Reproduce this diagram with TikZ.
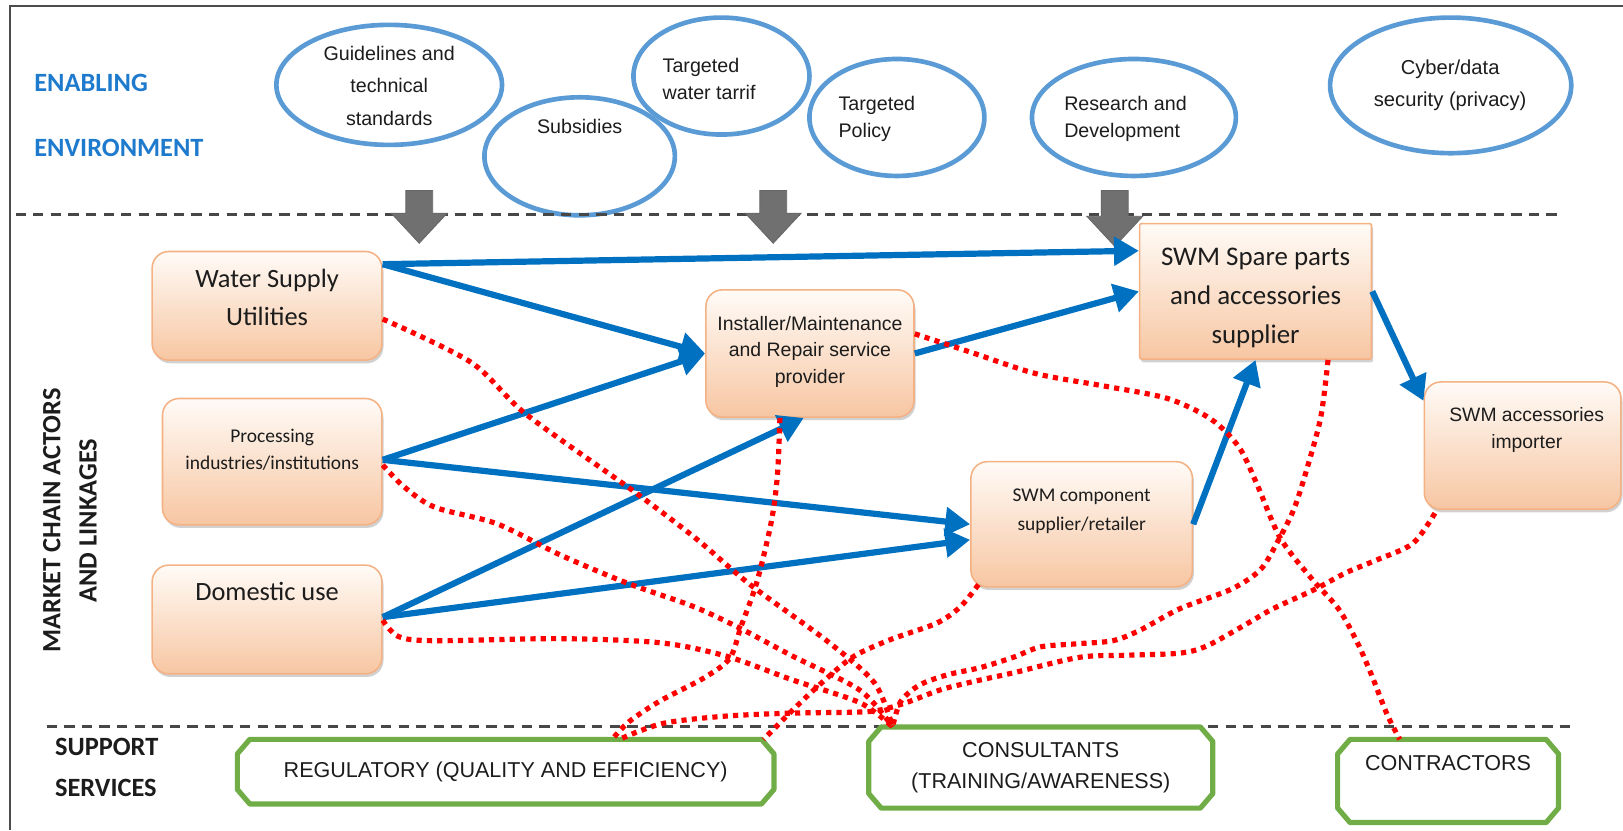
\documentclass[tikz,border=0pt]{standalone}
\usepackage{fontspec}
\setmainfont{Liberation Sans}
\newfontfamily\calibri{Carlito}
\usetikzlibrary{arrows.meta,shapes.geometric,shadows}
\newcommand{\fsz}[2]{\fontsize{#1}{#2}\selectfont}

\definecolor{ellblue}{RGB}{91,155,213}
\definecolor{headblue}{RGB}{30,122,204}
\definecolor{arrblue}{RGB}{0,112,192}
\definecolor{boxedge}{RGB}{244,177,131}
\definecolor{boxtop}{RGB}{255,251,247}
\definecolor{boxbot}{RGB}{247,198,162}
\definecolor{octgreen}{RGB}{112,173,71}
\definecolor{downgray}{RGB}{112,112,112}
\definecolor{txtdark}{RGB}{28,28,28}

\begin{document}
\begin{tikzpicture}[x=1pt,y=-1pt,
  ell/.style={ellipse, draw=ellblue, line width=4.5pt, inner sep=0pt},
  etext/.style={font=\fsz{19}{26}, text=txtdark, align=center, inner sep=0pt},
  headlbl/.style={font=\calibri\bfseries\fsz{25.5}{30}, text=headblue, inner sep=0pt},
  sidelbl/.style={font=\calibri\bfseries\fsz{25.5}{30}, text=txtdark, inner sep=0pt},
  actor/.style={draw=boxedge, line width=1.5pt, rounded corners=16pt,
    top color=boxtop, bottom color=boxbot, inner sep=0pt,
    drop shadow={shadow xshift=1.5pt, shadow yshift=-3pt, opacity=0.3, fill=black!60}},
  atext/.style={text=txtdark, align=center, inner sep=0pt},
  octo/.style={inner sep=0pt, text=txtdark, align=center, font=\fsz{20.8}{30}},
  octline/.style={draw=octgreen, line width=5pt, line join=round},
  divider/.style={draw=black!72, line width=3pt, dash pattern=on 10pt off 7pt},
  downarrow/.style={fill=downgray, draw=black!60, line width=0.8pt},
  flow/.style={draw=arrblue, line width=6pt, -{Triangle[length=24pt,width=27pt]}},
  link/.style={draw=red, line width=5pt, dash pattern=on 5pt off 5pt}
]
\useasboundingbox (0,0) rectangle (1568,802);

% frame
\draw[black!70, line width=2pt] (1568,6) -- (10,6) -- (10,802);

% enabling environment: policy ellipses
\node[ell, minimum width=218pt, minimum height=116pt] (guide) at (376,82) {};
\node[ell, minimum width=184pt, minimum height=114pt] (subs) at (560,151) {};
\node[ell, minimum width=170pt, minimum height=113pt] (tariff) at (697,73.5) {};
\node[ell, minimum width=169pt, minimum height=113pt] (policy) at (866.5,113.5) {};
\node[ell, minimum width=197pt, minimum height=113pt] (rnd) at (1095.5,113.5) {};
\node[ell, minimum width=233pt, minimum height=131pt] (cyber) at (1401.5,82.5) {};

\node[etext, font=\fsz{19}{31.5}] (guide-t) at (376,83) {Guidelines and\\technical\\standards};
\node[etext] (subs-t) at (560,122) {Subsidies};
\node[etext, align=left, anchor=west] (tariff-t) at (640,76) {Targeted\\water tarrif};
\node[etext, align=left, anchor=west] (policy-t) at (810,115) {Targeted\\Policy};
\node[etext, align=left, anchor=west] (rnd-t) at (1028,115) {Research and\\Development};
\node[etext, font=\fsz{19.5}{31}] (cyber-t) at (1401,82.5) {Cyber/data\\security (privacy)};

% section dividers
\draw[divider] (15,207) -- (1510,207);
\draw[divider] (45,702) -- (1522,702);

% influence arrows from the enabling environment
\foreach \cx/\tb/\tip in {405/206/235, 747/206/235, 1077/209/238}{
  \draw[downarrow] (\cx-13,184) -- (\cx-13,\tb) -- (\cx-27,\tb) -- (\cx,\tip)
    -- (\cx+27,\tb) -- (\cx+13,\tb) -- (\cx+13,184) -- cycle;
}

% market chain actors
\node[actor, minimum width=222pt, minimum height=105pt] (wsu) at (258,295.5) {};
\node[actor, minimum width=212pt, minimum height=122pt] (proc) at (263,446) {};
\node[actor, minimum width=222pt, minimum height=105pt] (dom) at (258,598.5) {};
\node[actor, minimum width=201pt, minimum height=123pt] (inst) at (782.5,341.5) {};
\node[actor, rounded corners=2pt, minimum width=224pt, minimum height=131pt] (spare) at (1213,281.5) {};
\node[actor, minimum width=214pt, minimum height=121pt] (comp) at (1045,506.5) {};
\node[actor, minimum width=190pt, minimum height=123pt] (imp) at (1471,430.5) {};

\node[atext, font=\calibri\fsz{25.5}{37}] (wsu-t) at (258,287.5) {Water Supply\\Utilities};
\node[atext, font=\calibri\fsz{18.8}{27}] (proc-t) at (263,434.5) {Processing\\industries/institutions};
\node[atext, font=\calibri\fsz{25.5}{37}] (dom-t) at (258,571) {Domestic use};
\node[atext, font=\fsz{18.8}{25.5}] (inst-t) at (782.5,340) {Installer/Maintenance\\and Repair service\\provider};
\node[atext, font=\calibri\fsz{26}{37.5}] (spare-t) at (1213,288) {SWM Spare parts\\and accessories\\supplier};
\node[atext, font=\calibri\fsz{18.8}{28}] (comp-t) at (1045,494) {SWM component\\supplier/retailer};
\node[atext, font=\fsz{18.7}{26}] (imp-t) at (1475,415) {SWM accessories\\importer};

% support services
\node[octo, minimum width=518pt, minimum height=62pt] (reg) at (488.5,745.5) {REGULATORY (QUALITY AND EFFICIENCY)};
\node[octo, minimum width=332pt, minimum height=78pt] (cons) at (1005.5,741.5) {CONSULTANTS\\(TRAINING/AWARENESS)};
\node[octo, minimum width=213pt, minimum height=80pt] (contr) at (1399,754.5) {};
\node[octo] (contr-t) at (1399,737) {CONTRACTORS};
\foreach \n in {reg,cons,contr}{
  \draw[octline] ([xshift=12pt]\n.north west) -- ([xshift=-12pt]\n.north east)
    -- ([yshift=-14pt]\n.north east) -- ([yshift=14pt]\n.south east)
    -- ([xshift=-12pt]\n.south east) -- ([xshift=12pt]\n.south west)
    -- ([yshift=14pt]\n.south west) -- ([yshift=-14pt]\n.north west) -- cycle;
}

% product flows
\draw[flow] ([yshift=-13pt]wsu.north east) -- ([yshift=-27pt]spare.north west);
\draw[flow] ([yshift=-13pt]wsu.north east) -- (inst.west);
\draw[flow] ([yshift=-60pt]proc.north east) -- (inst.west);
\draw[flow] ([yshift=-60pt]proc.north east) -- (comp.west);
\draw[flow] ([yshift=-51pt]dom.north east) -- ([xshift=-6pt]inst.south);
\draw[flow] ([yshift=-51pt]dom.north east) -- ([yshift=-15pt]comp.west);
\draw[flow] (inst.east) -- (spare.west);
\draw[flow] (comp.east) -- (spare.south);
\draw[flow] (spare.east) -- ([yshift=-19pt]imp.north west);

% support linkages
\draw[link] plot[smooth] coordinates {([yshift=-66pt]wsu.north east) (455,350) (508,400)
  (610,473) (672,520) (725,565) (800,620) (845,660) ([xshift=23pt]cons.north west)};
\draw[link] plot[smooth] coordinates {([yshift=-65pt]proc.north east) (390,470) (420,490)
  (480,506) (541,536) (605,563) (670,586) (715,607) (766,634) (831,667) ([xshift=23pt]cons.north west)};
\draw[link] plot[smooth] coordinates {([yshift=-54pt]dom.north east) (385,615) (420,619)
  (541,617) (638,621) (702,634) (766,657) (831,679) ([xshift=23pt]cons.north west)};
\draw[link] plot[smooth] coordinates {([xshift=-29pt]inst.south) (751,460) (745,505)
  (731,563) (716,605) (705,636) (680,655) (638,677) (608,697) ([xshift=362pt]reg.north west)};
\draw[link] plot[smooth] coordinates {([xshift=8pt,yshift=3pt]comp.south west) (928,586)
  (905,602) (860,618) (825,634) (798,656) (772,680) ([xshift=-10pt]reg.north east)};
\draw[link] plot[smooth] coordinates {([xshift=70pt]spare.south) (1276,403) (1262,455)
  (1250,492) (1235,522) (1218,550) (1190,569) (1140,588) (1101,609) (1075,619) (1040,622)
  (1005,625) (979,635) (947,645) (915,652) (888,662) (870,678) ([xshift=23pt]cons.north west)};
\draw[link] plot[smooth] coordinates {([xshift=11pt,yshift=-3pt]imp.south west) (1365,525)
  (1330,541) (1301,553) (1269,570) (1230,588) (1204,603) (1166,624) (1140,631) (1090,633)
  (1043,635) (979,650) (947,657) (910,666) (875,679) (850,686) (828,688) (763,689) (699,692)
  (640,699) ([xshift=369pt]reg.north west)};
\draw[link] plot[smooth] coordinates {([yshift=19pt]inst.east) (940,341) (1001,361)
  (1067,373) (1128,385) (1170,405) (1197,432) (1214,467) (1237,520) (1268,560) (1293,588)
  (1311,620) (1325,652) (1340,690) ([xshift=60pt]contr.north west)};

% section labels
\node[headlbl, anchor=west] (enab) at (33,80) {ENABLING};
\node[headlbl, anchor=west] (envi) at (33,143) {ENVIRONMENT};
\node[sidelbl, rotate=90] (mkt1) at (50,503) {MARKET CHAIN ACTORS};
\node[sidelbl, rotate=90] (mkt2) at (85,503) {AND LINKAGES};
\node[sidelbl, anchor=west] (supp1) at (53,722) {SUPPORT};
\node[sidelbl, anchor=west] (supp2) at (53,761) {SERVICES};
\end{tikzpicture}
\end{document}
